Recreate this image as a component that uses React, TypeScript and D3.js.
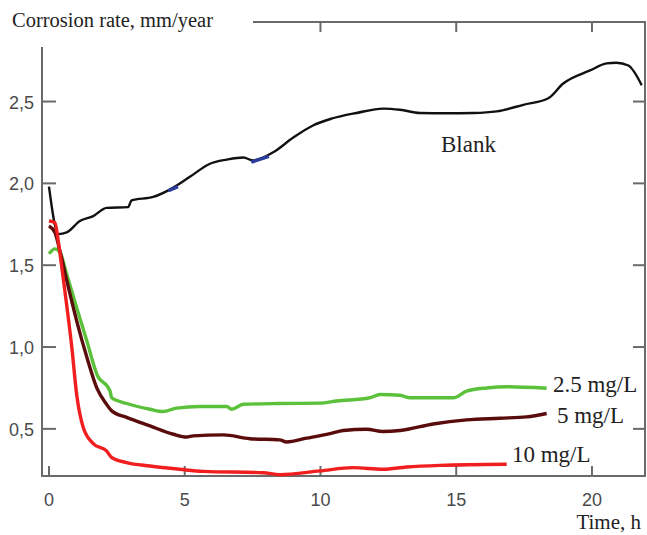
import * as d3 from "d3";
import { useEffect, useRef } from "react";

// time, h / corrosion rate, mm/year
const blank = [
  [0, 1.98], [0.35, 1.69], [0.65, 1.7], [1.14, 1.77], [1.63, 1.8], [2.12, 1.85],
  [2.92, 1.855], [3.04, 1.896], [3.84, 1.917], [4.58, 1.974], [5.19, 2.04],
  [5.93, 2.12], [6.55, 2.145], [7.16, 2.158], [7.52, 2.14], [8.26, 2.19],
  [9.0, 2.28], [9.74, 2.355], [10.4, 2.395], [11.33, 2.43], [12.31, 2.457],
  [12.93, 2.45], [13.66, 2.43], [14.65, 2.428], [15.63, 2.43], [16.49, 2.44],
  [17.47, 2.48], [18.39, 2.52], [18.94, 2.61], [19.93, 2.69], [20.54, 2.733],
  [20.9, 2.737], [21.34, 2.72], [21.83, 2.6],
];

// short blue bits drawn over the blank curve
const blueMarks = [
  [[4.4, 1.955], [4.75, 1.98]],
  [[7.45, 2.13], [8.1, 2.165]],
];

const mg25 = [
  [0, 1.57], [0.22, 1.6], [0.4, 1.58], [0.65, 1.447], [1.02, 1.24], [1.39, 1.04],
  [1.76, 0.835], [2.25, 0.73], [2.31, 0.69], [2.86, 0.655], [3.72, 0.62],
  [4.2, 0.606], [4.7, 0.627], [5.56, 0.637], [6.55, 0.637], [6.73, 0.62],
  [7.16, 0.65], [8.5, 0.655], [9.98, 0.657], [10.6, 0.67], [11.82, 0.69],
  [12.19, 0.71], [12.93, 0.705], [13.3, 0.69], [14.89, 0.69], [15.38, 0.73],
  [16.12, 0.75], [16.86, 0.757], [18.33, 0.748],
];

const mg5 = [
  [0, 1.74], [0.22, 1.7], [0.4, 1.59], [0.65, 1.41], [1.02, 1.16], [1.39, 0.94],
  [1.76, 0.75], [2.12, 0.65], [2.31, 0.61], [2.86, 0.57], [3.72, 0.518],
  [4.58, 0.467], [5.07, 0.45], [5.31, 0.457], [6.42, 0.463], [7.4, 0.44],
  [8.5, 0.433], [8.75, 0.42], [9.49, 0.443], [10.35, 0.471], [10.84, 0.49],
  [11.7, 0.498], [12.3, 0.484], [12.93, 0.49], [14.15, 0.53], [15.38, 0.555],
  [16.6, 0.565], [17.59, 0.573], [18.33, 0.594],
];

const mg10 = [
  [0, 1.77], [0.22, 1.76], [0.34, 1.65], [0.47, 1.49], [0.65, 1.26], [0.84, 1.0],
  [1.02, 0.71], [1.26, 0.51], [1.63, 0.41], [2.12, 0.365], [2.31, 0.325],
  [2.86, 0.294], [3.72, 0.273], [4.82, 0.253], [5.68, 0.24], [7.89, 0.232],
  [8.5, 0.22], [9.98, 0.243], [11.2, 0.263], [12.3, 0.253], [13.17, 0.267],
  [14.4, 0.277], [16.86, 0.284],
];

const series = [
  { name: "Blank", data: blank, color: "#111", width: 2.4, label: [14.44, 2.19] },
  { name: "2.5 mg/L", data: mg25, color: "#5cc13a", width: 3.4, label: [18.56, 0.725] },
  { name: "5 mg/L", data: mg5, color: "#5a0c0c", width: 3.4, label: [18.71, 0.536] },
  { name: "10 mg/L", data: mg10, color: "#f01e1e", width: 3.4, label: [17.05, 0.297] },
];

const xTicks = [0, 5, 10, 15, 20];
const yTicks = [0.5, 1.0, 1.5, 2.0, 2.5];
const yTickLabels = ["0,5", "1,0", "1,5", "2,0", "2,5"];

function App() {
  const ref = useRef(null);

  useEffect(() => {
    const svg = d3.select(ref.current);
    svg.selectAll("*").remove();

    const x = d3.scaleLinear().domain([-0.22, 21.99]).range([43, 646]);
    const y = d3.scaleLinear().domain([0.212, 2.986]).range([476, 22]);

    const line = d3
      .line()
      .x((d) => x(d[0]))
      .y((d) => y(d[1]))
      .curve(d3.curveMonotoneX);

    const axisColor = "#6a6a6a";
    const frame = svg.append("g").attr("stroke", axisColor).attr("stroke-width", 2).attr("fill", "none");
    frame.append("line").attr("x1", 42).attr("x2", 42).attr("y1", 47).attr("y2", 477);
    frame.append("line").attr("x1", 41).attr("x2", 646).attr("y1", 476).attr("y2", 476);
    frame.append("line").attr("x1", 645).attr("x2", 645).attr("y1", 21).attr("y2", 477);
    frame.append("line").attr("x1", 253).attr("x2", 646).attr("y1", 22).attr("y2", 22);

    // ticks
    xTicks.forEach((t) => {
      frame.append("line").attr("x1", x(t)).attr("x2", x(t)).attr("y1", 476).attr("y2", 466);
      if (x(t) > 253) {
        frame.append("line").attr("x1", x(t)).attr("x2", x(t)).attr("y1", 22).attr("y2", 32);
      }
    });
    yTicks.forEach((v) => {
      frame.append("line").attr("x1", 42).attr("x2", 56).attr("y1", y(v)).attr("y2", y(v));
      frame.append("line").attr("x1", 645).attr("x2", 633).attr("y1", y(v)).attr("y2", y(v));
    });

    const sans = "'Liberation Sans', Arial, sans-serif";
    const serif = "'Liberation Serif', 'Times New Roman', serif";

    svg.append("g")
      .selectAll("text")
      .data(xTicks)
      .enter()
      .append("text")
      .attr("x", (d) => x(d))
      .attr("y", 506)
      .attr("text-anchor", "middle")
      .attr("font-family", sans)
      .attr("font-size", 18)
      .attr("fill", "#4a4a4a")
      .text((d) => d);

    svg.append("g")
      .selectAll("text")
      .data(yTicks)
      .enter()
      .append("text")
      .attr("x", 34)
      .attr("y", (d) => y(d) + 7)
      .attr("text-anchor", "end")
      .attr("font-family", sans)
      .attr("font-size", 18)
      .attr("fill", "#4a4a4a")
      .text((d, i) => yTickLabels[i]);

    svg.append("text")
      .attr("x", 12)
      .attr("y", 27)
      .attr("font-family", serif)
      .attr("font-size", 20.5)
      .attr("fill", "#222")
      .text("Corrosion rate, mm/year");

    svg.append("text")
      .attr("x", 641)
      .attr("y", 529)
      .attr("text-anchor", "end")
      .attr("font-family", serif)
      .attr("font-size", 21)
      .attr("fill", "#222")
      .text("Time, h");

    series.forEach((s) => {
      svg.append("path")
        .attr("d", line(s.data))
        .attr("fill", "none")
        .attr("stroke", s.color)
        .attr("stroke-width", s.width)
        .attr("stroke-linejoin", "round");
    });

    blueMarks.forEach((m) => {
      svg.append("path")
        .attr("d", line(m))
        .attr("fill", "none")
        .attr("stroke", "#2b3c9c")
        .attr("stroke-width", 3.5);
    });

    series.forEach((s) => {
      svg.append("text")
        .attr("x", x(s.label[0]))
        .attr("y", y(s.label[1]))
        .attr("font-family", serif)
        .attr("font-size", 23)
        .attr("fill", "#222")
        .text(s.name);
    });
  }, []);

  return (
    <svg
      ref={ref}
      width={647}
      height={535}
      style={{ position: "absolute", left: 0, top: 0, background: "#fff" }}
    ></svg>
  );
}

export default App;
